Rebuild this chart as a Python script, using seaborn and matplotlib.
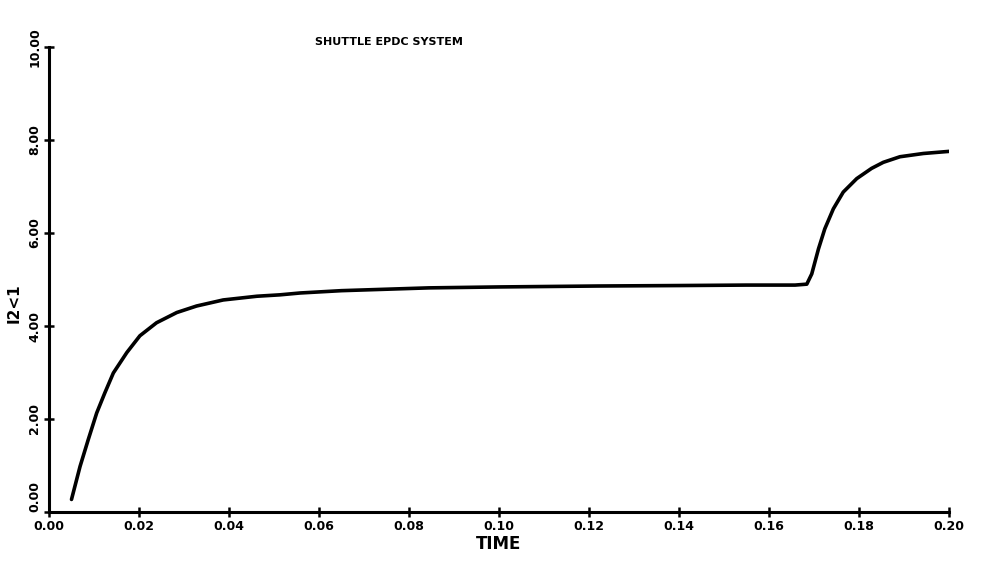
import matplotlib
matplotlib.use("Agg")
import matplotlib.pyplot as plt
import seaborn as sns
import pandas as pd

time = [0.0050, 0.0069, 0.0087, 0.0106, 0.0124, 0.0143, 0.0173, 0.0202, 0.0239, 0.0284,
        0.0328, 0.0387, 0.0462, 0.0513, 0.0558, 0.0650, 0.0844, 0.1000, 0.1220, 0.1400,
        0.1550, 0.1658, 0.1684, 0.1695, 0.1710, 0.1724, 0.1743, 0.1765, 0.1795, 0.1828,
        0.1854, 0.1891, 0.1943, 0.2006]
value = [0.27, 0.98, 1.55, 2.13, 2.56, 2.99, 3.43, 3.79, 4.07, 4.29,
         4.43, 4.56, 4.64, 4.67, 4.71, 4.76, 4.82, 4.84, 4.86, 4.87,
         4.88, 4.88, 4.90, 5.12, 5.66, 6.09, 6.52, 6.88, 7.17, 7.39,
         7.52, 7.64, 7.71, 7.76]

x_ticks = [0.00, 0.02, 0.04, 0.06, 0.08, 0.10, 0.12, 0.14, 0.16, 0.18, 0.20]
x_tick_labels = ["0.00", "0.02", "0.04", "0.06", "0.08", "0.10", "0.12", "0.14", "0.16", "0.18", "0.20"]
y_ticks = [0, 2, 4, 6, 8, 10]
y_tick_labels = ["0.00", "2.00", "4.00", "6.00", "8.00", "10.00"]

title = "SHUTTLE EPDC SYSTEM"
x_label = "TIME"
y_label = "I2<1"

sns.set_theme(style="ticks")
plt.rcParams['font.family'] = ['DejaVu Sans']
plt.rcParams['text.color'] = 'black'
plt.rcParams['axes.labelcolor'] = 'black'
plt.rcParams['xtick.color'] = 'black'
plt.rcParams['ytick.color'] = 'black'

df = pd.DataFrame({"time": time, "value": value})

fig = plt.figure(figsize=(9.87, 5.67), dpi=100)
ax = fig.add_axes([49/987, 1 - 512/567, (949 - 49)/987, (512 - 47)/567])

sns.lineplot(data=df, x="time", y="value", ax=ax, color="black", linewidth=2.6,
             sort=False, estimator=None)
ax.lines[0].set_solid_joinstyle("round")

ax.set_xlim(0, 0.20)
ax.set_ylim(0, 10)
ax.set_xticks(x_ticks)
ax.set_xticklabels(x_tick_labels, fontsize=9, fontweight="bold", color="black")
ax.set_yticks(y_ticks)
ax.set_yticklabels(y_tick_labels, fontsize=9, fontweight="bold", rotation=90, va="center", color="black")
ax.tick_params(axis="both", direction="inout", length=7, width=1.8, colors="black", pad=2)
ylabels = ax.get_yticklabels()
ylabels[0].set_va("bottom")
for s in ["top", "right"]:
    ax.spines[s].set_visible(False)
for s in ["left", "bottom"]:
    ax.spines[s].set_linewidth(2.2)
    ax.spines[s].set_color("black")

ax.set_xlabel(x_label, fontsize=12, fontweight="bold", labelpad=2, color="black")
ax.set_ylabel(y_label, fontsize=11, fontweight="bold", color="black")
ax.yaxis.set_label_coords(-0.03, 0.45)

fig.text(315/987, 1 - 42/567, title, fontsize=8, fontweight="bold", va="center", ha="left", color="black")

fig.savefig("out.png", dpi=100, facecolor="white")
